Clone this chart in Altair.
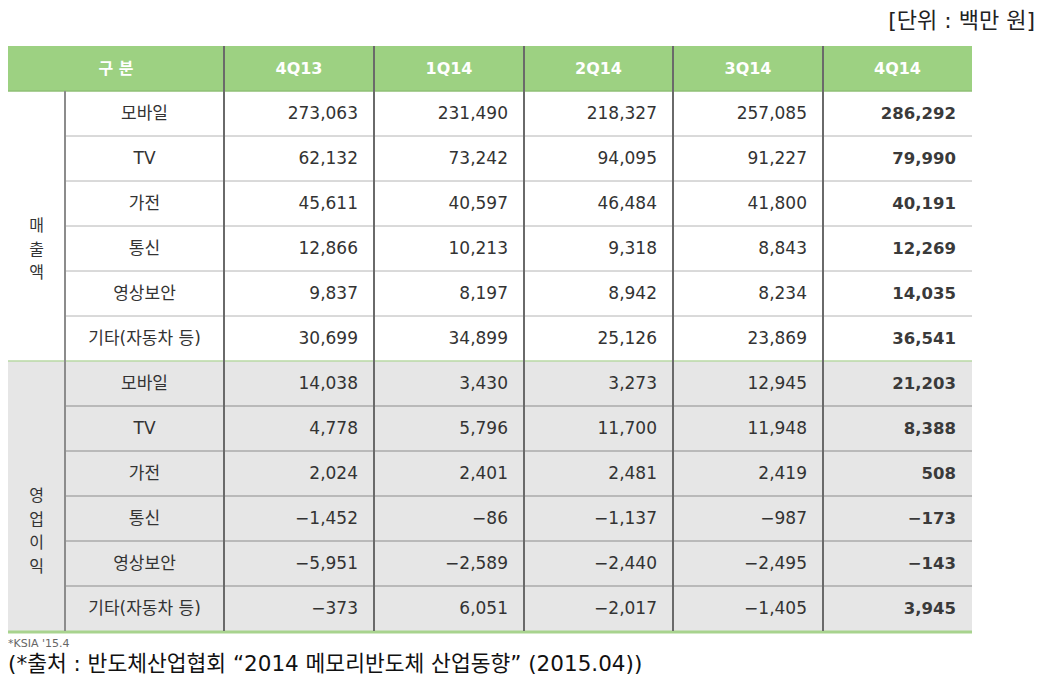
import altair as alt
import pandas as pd

# ---------------- data ----------------
quarters = ["4Q13", "1Q14", "2Q14", "3Q14", "4Q14"]
items = ["모바일", "TV", "가전", "통신", "영상보안", "기타(자동차 등)"]
groups = ["매\n출\n액", "영\n업\n이\n익"]

sales_mobile = [273063, 231490, 218327, 257085, 286292]
sales_tv = [62132, 73242, 94095, 91227, 79990]
sales_appl = [45611, 40597, 46484, 41800, 40191]
sales_telecom = [12866, 10213, 9318, 8843, 12269]
sales_security = [9837, 8197, 8942, 8234, 14035]
sales_other = [30699, 34899, 25126, 23869, 36541]

profit_mobile = [14038, 3430, 3273, 12945, 21203]
profit_tv = [4778, 5796, 11700, 11948, 8388]
profit_appl = [2024, 2401, 2481, 2419, 508]
profit_telecom = [-1452, -86, -1137, -987, -173]
profit_security = [-5951, -2589, -2440, -2495, -143]
profit_other = [-373, 6051, -2017, -1405, 3945]

sales = [sales_mobile, sales_tv, sales_appl, sales_telecom, sales_security, sales_other]
profit = [profit_mobile, profit_tv, profit_appl, profit_telecom, profit_security, profit_other]

header_first = "구 분"
unit_text = "[단위 : 백만 원]"
note1 = "*KSIA '15.4"
note2 = "(*출처 : 반도체산업협회  \u201c2014 메모리반도체 산업동향\u201d (2015.04))"

# ---------------- layout ----------------
W, H = 1028, 668
col_w = [57, 159, 150, 150, 149, 150, 149]
edges = [0]
for w in col_w:
    edges.append(edges[-1] + w)
TOP = 38
ROW_H = 45
right = edges[-1]


def ry(i):
    return TOP + ROW_H * i


FONT = "DejaVu Sans, Noto Sans CJK KR"
KFONT = "Noto Sans CJK KR"
TXT = "#333333"

xs = alt.Scale(domain=[0, W], nice=False, zero=False)
ys = alt.Scale(domain=[0, H], nice=False, zero=False, reverse=True)


def X(f):
    return alt.X(f, type="quantitative", scale=xs, axis=None)


def Y(f):
    return alt.Y(f, type="quantitative", scale=ys, axis=None)


# background rects
bg = pd.DataFrame([
    {"x": 0, "x2": right, "y": ry(0), "y2": ry(1), "c": "#9dd182"},
    {"x": 0, "x2": right, "y": ry(7), "y2": ry(13), "c": "#e6e6e6"},
])
rects = alt.Chart(bg).mark_rect().encode(
    x=X("x"), x2="x2", y=Y("y"), y2="y2",
    color=alt.Color("c:N", scale=None))

# horizontal lines
hl = []
for i in range(2, 7):
    hl.append({"x": edges[1], "x2": right, "y": ry(i), "c": "#b4b4b4"})
for i in range(8, 13):
    hl.append({"x": edges[1], "x2": right, "y": ry(i), "c": "#8c8c8c"})
hl = pd.DataFrame(hl)
hlines = alt.Chart(hl).mark_rule(strokeWidth=1).encode(
    x=X("x"), x2="x2", y=Y("y"),
    color=alt.Color("c:N", scale=None))

sep = pd.DataFrame([
    {"x": 0, "x2": right, "y": ry(1), "c": "#8fbf74"},
    {"x": 0, "x2": right, "y": ry(7), "c": "#b9d9a5"},
])
seplines = alt.Chart(sep).mark_rule(strokeWidth=1.5).encode(
    x=X("x"), x2="x2", y=Y("y"),
    color=alt.Color("c:N", scale=None))

bottom = pd.DataFrame([{"x": 0, "x2": right, "y": ry(13) + 1}])
bottomline = alt.Chart(bottom).mark_rule(strokeWidth=3, color="#a8d38e").encode(
    x=X("x"), x2="x2", y=Y("y"))

# vertical lines
vl = [{"x": edges[1], "y": ry(1), "y2": ry(13), "c": "#8c8c8c"}]
for k in range(2, 7):
    vl.append({"x": edges[k], "y": ry(0), "y2": ry(13), "c": "#6a6a6a"})
vl = pd.DataFrame(vl)
vlines = alt.Chart(vl).mark_rule(strokeWidth=2).encode(
    x=X("x"), y=Y("y"), y2="y2",
    color=alt.Color("c:N", scale=None))

# header text
hd = [{"x": (edges[0] + edges[2]) / 2, "y": (ry(0) + ry(1)) / 2, "t": header_first}]
for k, q in enumerate(quarters):
    hd.append({"x": (edges[k + 2] + edges[k + 3]) / 2, "y": (ry(0) + ry(1)) / 2, "t": q})
hd = pd.DataFrame(hd)
htext = alt.Chart(hd).mark_text(font=FONT, fontSize=16, fontWeight="bold",
                                color="white", align="center", baseline="middle").encode(
    x=X("x"), y=Y("y"), text="t:N")

# item labels
lab = []
for s in range(2):
    for j, it in enumerate(items):
        r = 1 + s * 6 + j
        lab.append({"x": (edges[1] + edges[2]) / 2, "y": (ry(r) + ry(r + 1)) / 2, "t": it})
lab = pd.DataFrame(lab)
ltext = alt.Chart(lab).mark_text(font=FONT, fontSize=17, color=TXT,
                                 align="center", baseline="middle").encode(
    x=X("x"), y=Y("y"), text="t:N")

# group labels
gp = pd.DataFrame([
    {"x": (edges[0] + edges[1]) / 2, "y": (ry(1) + ry(7)) / 2, "t": groups[0]},
    {"x": (edges[0] + edges[1]) / 2, "y": (ry(7) + ry(13)) / 2, "t": groups[1]},
])
gtext = alt.Chart(gp).mark_text(font=KFONT, fontSize=16, color=TXT, lineBreak="\n",
                                lineHeight=23.5, align="center", baseline="middle").encode(
    x=X("x"), y=Y("y"), text="t:N")

# numbers


def fmt(v):
    s = f"{abs(v):,}"
    return ("\u2212" + s) if v < 0 else s


num = []
for s, block in enumerate([sales, profit]):
    for j, row in enumerate(block):
        r = 1 + s * 6 + j
        for k, v in enumerate(row):
            num.append({"x": edges[k + 3] - 16, "y": (ry(r) + ry(r + 1)) / 2,
                        "t": fmt(v), "last": k == len(quarters) - 1})
num = pd.DataFrame(num)
ntext = alt.Chart(num[~num["last"]]).mark_text(
    font=FONT, fontSize=17, color=TXT, align="right", baseline="middle").encode(
    x=X("x"), y=Y("y"), text="t:N")
ntext_b = alt.Chart(num[num["last"]]).mark_text(
    font=FONT, fontSize=16.5, fontWeight="bold", color="#3a3a3a", align="right",
    baseline="middle").encode(
    x=X("x"), y=Y("y"), text="t:N")

# annotations
unit = alt.Chart(pd.DataFrame({"t": [unit_text]})).mark_text(
    font=FONT, fontSize=22, color="#222222", align="right", baseline="top").encode(
    x=alt.value(W - 1), y=alt.value(3), text="t:N")
n1 = alt.Chart(pd.DataFrame({"t": [note1]})).mark_text(
    font=FONT, fontSize=11, color="#666666", align="left", baseline="middle").encode(
    x=alt.value(0), y=alt.value(636), text="t:N")
n2 = alt.Chart(pd.DataFrame({"t": [note2]})).mark_text(
    font=FONT, fontSize=21.5, color="#111111", align="left", baseline="bottom").encode(
    x=alt.value(0), y=alt.value(H), text="t:N")

chart = alt.layer(
    rects, hlines, seplines, bottomline, vlines, htext, ltext, gtext, ntext, ntext_b,
    unit, n1, n2
).properties(
    width=W, height=H, padding=0,
    autosize=alt.AutoSizeParams(type="none"),
).configure_view(stroke=None)

chart.save("out.html", embed_options={"renderer": "svg", "actions": False})
